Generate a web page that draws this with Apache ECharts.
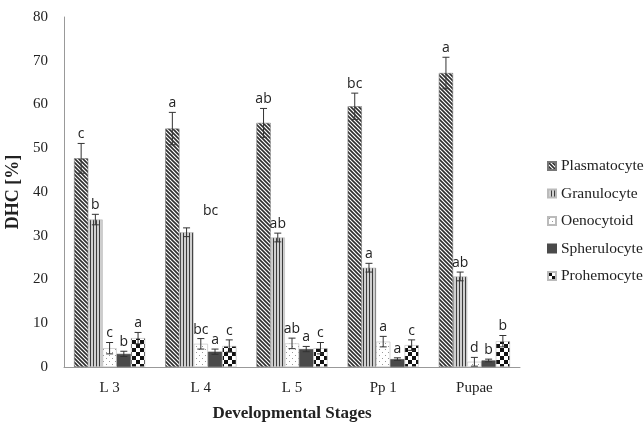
<!DOCTYPE html>
<html>
<head>
<meta charset="utf-8">
<script src="https://cdn.jsdelivr.net/npm/echarts@6/dist/echarts.min.js"></script>
<style>
  html, body { margin: 0; padding: 0; background: #fff; }
  #chart { width: 644px; height: 425px; }
</style>
</head>
<body>
<div id="chart"></div>
<script>
// 数据
var stages = ['L 3', 'L 4', 'L 5', 'Pp 1', 'Pupae']
var cellTypes = ['Plasmatocyte', 'Granulocyte', 'Oenocytoid', 'Spherulocyte', 'Prohemocyte']

var plasmatocyte = [47.7, 54.5, 55.8, 59.6, 67.2]
var granulocyte = [33.7, 30.8, 29.6, 22.7, 20.7]
var oenocytoid = [4.3, 5.3, 5.4, 5.8, 1.2]
var spherulocyte = [3.0, 3.5, 4.1, 1.8, 1.5]
var prohemocyte = [6.6, 4.8, 4.3, 5.0, 5.9]

var plasmatocyteErr = [3.4, 3.7, 3.3, 3.0, 3.6]
var granulocyteErr = [1.2, 1.0, 1.0, 1.0, 1.0]
var oenocytoidErr = [1.3, 1.2, 1.2, 1.2, 1.0]
var spherulocyteErr = [0.6, 0.6, 0.6, 0.3, 0.3]
var prohemocyteErr = [1.3, 1.4, 1.3, 1.2, 1.3]

var plasmatocyteSig = ['c', 'a', 'ab', 'bc', 'a']
var granulocyteSig = ['b', 'bc', 'ab', 'a', 'ab']
var oenocytoidSig = ['c', 'bc', 'ab', 'a', 'd']
var spherulocyteSig = ['b', 'a', 'a', 'a', 'b']
var prohemocyteSig = ['a', 'c', 'c', 'c', 'b']

var yTicks = [0, 10, 20, 30, 40, 50, 60, 70, 80]

var values = [plasmatocyte, granulocyte, oenocytoid, spherulocyte, prohemocyte]
var errors = [plasmatocyteErr, granulocyteErr, oenocytoidErr, spherulocyteErr, prohemocyteErr]
var sigs = [plasmatocyteSig, granulocyteSig, oenocytoidSig, spherulocyteSig, prohemocyteSig]

// 填充纹理
function makePattern(w, h, draw) {
  var c = document.createElement('canvas')
  c.width = w
  c.height = h
  var ctx = c.getContext('2d')
  draw(ctx, w, h)
  return { image: c, repeat: 'repeat' }
}

var patterns = [
  // 斜线
  makePattern(4, 4, function (ctx, w, h) {
    ctx.fillStyle = '#fff'
    ctx.fillRect(0, 0, w, h)
    ctx.strokeStyle = '#2e2e2e'
    ctx.lineWidth = 1.6
    ctx.beginPath()
    ctx.moveTo(-1, -1); ctx.lineTo(5, 5)
    ctx.moveTo(-1, 3); ctx.lineTo(1, 5)
    ctx.moveTo(3, -1); ctx.lineTo(5, 1)
    ctx.stroke()
  }),
  // 竖线
  makePattern(3, 4, function (ctx, w, h) {
    ctx.fillStyle = '#d0d0d0'
    ctx.fillRect(0, 0, w, h)
    ctx.fillStyle = '#3c3c3c'
    ctx.fillRect(0, 0, 1, h)
  }),
  // 点
  makePattern(6, 6, function (ctx, w, h) {
    ctx.fillStyle = '#fff'
    ctx.fillRect(0, 0, w, h)
    ctx.fillStyle = '#999'
    ctx.fillRect(1, 1, 1, 1)
    ctx.fillRect(4, 4, 1, 1)
  }),
  '#4a4a4a',
  // 棋盘格
  makePattern(8, 8, function (ctx, w, h) {
    ctx.fillStyle = '#fff'
    ctx.fillRect(0, 0, w, h)
    ctx.fillStyle = '#111'
    ctx.fillRect(0, 0, 4, 4)
    ctx.fillRect(4, 4, 4, 4)
  }),
]
var borders = ['#777', '#bbb', '#bbb', '#4a4a4a', '#bbb']

var catGap = 0.22

var myChart = echarts.init(document.getElementById('chart'))

var series = cellTypes.map(function (name, i) {
  return {
    name: name,
    type: 'bar',
    data: values[i],
    barGap: 0,
    barCategoryGap: catGap * 100 + '%',
    itemStyle: {
      color: patterns[i],
      borderColor: borders[i],
      borderWidth: 0.6,
    },
    animation: false,
  }
})

// 误差线与字母标注
var errData = []
stages.forEach(function (s, ci) {
  cellTypes.forEach(function (t, si) {
    errData.push([ci, values[si][ci], errors[si][ci], si, sigs[si][ci]])
  })
})

series.push({
  type: 'custom',
  name: 'err',
  silent: true,
  animation: false,
  z: 10,
  data: errData,
  renderItem: function (params, api) {
    var ci = api.value(0)
    var v = api.value(1)
    var e = api.value(2)
    var si = api.value(3)
    var sig = errData[params.dataIndex][4]
    var band = api.size([1, 0])[0]
    var bw = (band * (1 - catGap)) / cellTypes.length
    var center = api.coord([ci, 0])[0]
    var x = center - (bw * cellTypes.length) / 2 + bw * (si + 0.5)
    var top = api.coord([ci, v + e])[1]
    var bot = api.coord([ci, Math.max(v - e, 0)])[1]
    var cap = 3.5
    var style = { stroke: '#333', lineWidth: 1 }
    var lx = x
    var ly = top - 2
    // L4 granulocyte 的字母偏右
    if (ci === 1 && si === 1) {
      lx = x + 24
      ly = top - 10
    }
    return {
      type: 'group',
      children: [
        { type: 'line', shape: { x1: x, y1: top, x2: x, y2: bot }, style: style },
        { type: 'line', shape: { x1: x - cap, y1: top, x2: x + cap, y2: top }, style: style },
        { type: 'line', shape: { x1: x - cap, y1: bot, x2: x + cap, y2: bot }, style: style },
        {
          type: 'text',
          style: {
            x: lx,
            y: ly,
            text: sig,
            fill: '#222',
            font: '14px "Open Sans", sans-serif',
            align: 'center',
            verticalAlign: 'bottom',
          },
        },
      ],
    }
  },
})

var option = {
  backgroundColor: '#fff',
  animation: false,
  grid: { left: 64, right: 124, top: 17, bottom: 58, outerBoundsMode: 'none', containLabel: false },
  legend: {
    orient: 'vertical',
    left: 542,
    top: 153,
    itemWidth: 8,
    itemHeight: 8,
    itemGap: 11.5,
    icon: 'rect',
    data: cellTypes,
    textStyle: { fontFamily: 'Liberation Serif', fontSize: 15.5, color: '#222' },
  },
  xAxis: {
    type: 'category',
    data: stages,
    name: 'Developmental Stages',
    nameLocation: 'middle',
    nameGap: 38,
    nameTextStyle: { fontFamily: 'Liberation Serif', fontWeight: 'bold', fontSize: 17, color: '#222' },
    axisLine: { lineStyle: { color: '#999' } },
    axisTick: { show: false },
    axisLabel: { fontFamily: 'Liberation Serif', fontSize: 15, color: '#222', margin: 14 },
  },
  yAxis: {
    type: 'value',
    min: yTicks[0],
    max: yTicks[yTicks.length - 1],
    interval: 10,
    name: 'DHC [%]',
    nameLocation: 'middle',
    nameGap: 36,
    nameTextStyle: { fontFamily: 'Liberation Serif', fontWeight: 'bold', fontSize: 18, color: '#222' },
    axisLine: { show: true, lineStyle: { color: '#999' } },
    axisTick: { show: false },
    splitLine: { show: false },
    axisLabel: { fontFamily: 'Liberation Serif', fontSize: 15, color: '#222', margin: 16 },
  },
  series: series,
}

myChart.setOption(option)
</script>
</body>
</html>
